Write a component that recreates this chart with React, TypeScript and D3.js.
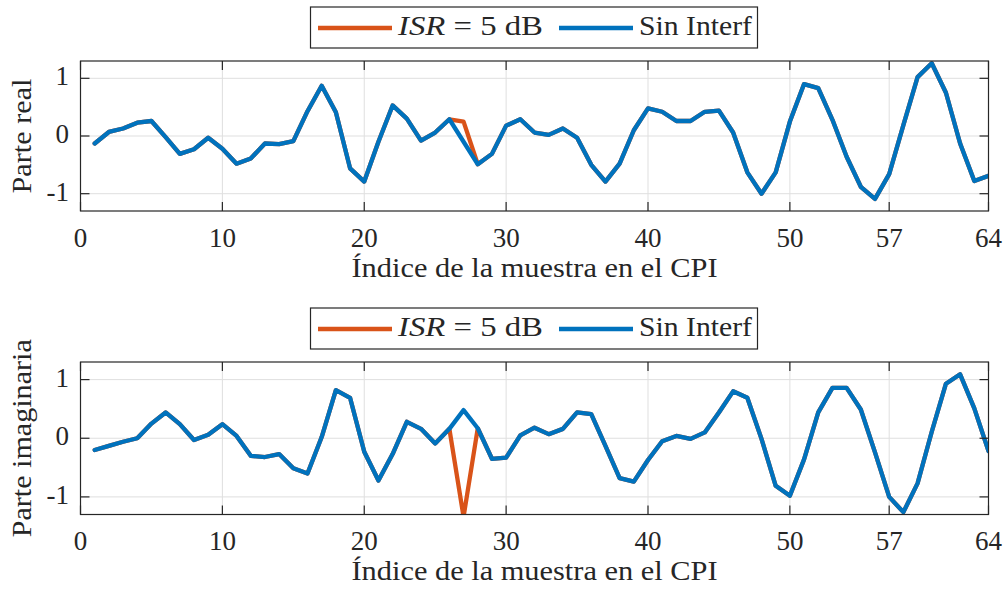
import React from 'react';
import * as d3 from 'd3';

const xTicks = [0, 10, 20, 30, 40, 50, 57, 64];
const yTicks = [-1, 0, 1];

const realSinInterf = [
  -0.13, 0.07, 0.13, 0.23, 0.26, -0.02, -0.31, -0.23, -0.03, -0.22,
  -0.48, -0.39, -0.13, -0.14, -0.09, 0.43, 0.87, 0.41, -0.56, -0.79,
  -0.1, 0.53, 0.3, -0.08, 0.06, 0.29, -0.1, -0.49, -0.31, 0.18,
  0.29, 0.06, 0.02, 0.13, -0.03, -0.5, -0.79, -0.48, 0.1, 0.48,
  0.42, 0.26, 0.26, 0.42, 0.44, 0.06, -0.63, -1.0, -0.63, 0.25,
  0.9, 0.83, 0.28, -0.36, -0.88, -1.09, -0.66, 0.19, 1.02, 1.26,
  0.75, -0.13, -0.78, -0.69,
];
const realISR5 = [
  -0.13, 0.07, 0.13, 0.23, 0.26, -0.02, -0.31, -0.23, -0.03, -0.22,
  -0.48, -0.39, -0.13, -0.14, -0.09, 0.43, 0.87, 0.41, -0.56, -0.79,
  -0.1, 0.53, 0.3, -0.08, 0.06, 0.29, 0.25, -0.49, -0.31, 0.18,
  0.29, 0.06, 0.02, 0.13, -0.03, -0.5, -0.79, -0.48, 0.1, 0.48,
  0.42, 0.26, 0.26, 0.42, 0.44, 0.06, -0.63, -1.0, -0.63, 0.25,
  0.9, 0.83, 0.28, -0.36, -0.88, -1.09, -0.66, 0.19, 1.02, 1.26,
  0.75, -0.13, -0.78, -0.69,
];
const imagSinInterf = [
  -0.2, -0.13, -0.06, 0.0, 0.25, 0.44, 0.24, -0.03, 0.06, 0.24,
  0.04, -0.3, -0.32, -0.27, -0.51, -0.6, 0.02, 0.82, 0.69, -0.23,
  -0.72, -0.27, 0.28, 0.16, -0.09, 0.16, 0.48, 0.17, -0.35, -0.33,
  0.05, 0.18, 0.07, 0.16, 0.44, 0.41, -0.13, -0.68, -0.74, -0.37,
  -0.05, 0.04, -0.01, 0.1, 0.44, 0.8, 0.69, -0.01, -0.81, -0.98,
  -0.36, 0.44, 0.86, 0.86, 0.49, -0.24, -1.0, -1.26, -0.77, 0.11,
  0.93, 1.09, 0.51, -0.22,
];
const imagISR5 = [
  -0.2, -0.13, -0.06, 0.0, 0.25, 0.44, 0.24, -0.03, 0.06, 0.24,
  0.04, -0.3, -0.32, -0.27, -0.51, -0.6, 0.02, 0.82, 0.69, -0.23,
  -0.72, -0.27, 0.28, 0.16, -0.09, 0.16, -1.34, 0.17, -0.35, -0.33,
  0.05, 0.18, 0.07, 0.16, 0.44, 0.41, -0.13, -0.68, -0.74, -0.37,
  -0.05, 0.04, -0.01, 0.1, 0.44, 0.8, 0.69, -0.01, -0.81, -0.98,
  -0.36, 0.44, 0.86, 0.86, 0.49, -0.24, -1.0, -1.26, -0.77, 0.11,
  0.93, 1.09, 0.51, -0.22,
];

const xLabel = 'Índice de la muestra en el CPI';
const legendSin = 'Sin Interf';

const FONT = 'Liberation Serif, DejaVu Serif, Times New Roman, serif';
const AX = '#262626';
const GRID = '#dfdfdf';
const BLUE = '#0072BD';
const ORANGE = '#D95319';
const FS = 27;
const LW = 4.3;

type PanelProps = {
  top: number;
  bottom: number;
  sin: number[];
  isr: number[];
  yLabel: string;
  yLabelLen: number;
  id: string;
};

function Panel({ top, bottom, sin, isr, yLabel, yLabelLen, id }: PanelProps) {
  const left = 80.5;
  const right = 988.5;
  const x = d3.scaleLinear().domain([0, 64]).range([left, right]);
  const y = d3.scaleLinear().domain([-1.3, 1.3]).range([bottom, top]);
  const line = d3
    .line<number>()
    .x((_, i) => x(i + 1))
    .y((d) => y(d));
  const tick = 9;
  const legTop = top - 54;
  const legH = 41;
  const lineY = legTop + 21;
  const textY = legTop + 28;
  const midY = (top + bottom) / 2;
  const textStyle = { fontFamily: FONT };
  return (
    <g>
      <defs>
        <clipPath id={id}>
          <rect x={left} y={top} width={right - left} height={bottom - top} />
        </clipPath>
      </defs>
      <rect x={left} y={top} width={right - left} height={bottom - top} fill="#fff" />
      {xTicks.map((t) => (
        <line key={'gx' + t} x1={x(t)} x2={x(t)} y1={top} y2={bottom} stroke={GRID} strokeWidth={1} />
      ))}
      {yTicks.map((t) => (
        <line key={'gy' + t} x1={left} x2={right} y1={y(t)} y2={y(t)} stroke={GRID} strokeWidth={1} />
      ))}
      <g clipPath={`url(#${id})`}>
        <path d={line(isr) || ''} fill="none" stroke={ORANGE} strokeWidth={LW} strokeLinejoin="round" strokeLinecap="round" />
        <path d={line(sin) || ''} fill="none" stroke={BLUE} strokeWidth={LW} strokeLinejoin="round" strokeLinecap="round" />
      </g>
      <rect x={left} y={top} width={right - left} height={bottom - top} fill="none" stroke={AX} strokeWidth={1.2} />
      {xTicks.map((t) => (
        <g key={'tx' + t}>
          <line x1={x(t)} x2={x(t)} y1={bottom} y2={bottom - tick} stroke={AX} strokeWidth={1.2} />
          <line x1={x(t)} x2={x(t)} y1={top} y2={top + tick} stroke={AX} strokeWidth={1.2} />
          <text x={x(t)} y={bottom + 35.5} textAnchor="middle" style={textStyle} fontSize={FS} fill={AX}>
            {t}
          </text>
        </g>
      ))}
      {yTicks.map((t) => (
        <g key={'ty' + t}>
          <line x1={left} x2={left + tick} y1={y(t)} y2={y(t)} stroke={AX} strokeWidth={1.2} />
          <line x1={right} x2={right - tick} y1={y(t)} y2={y(t)} stroke={AX} strokeWidth={1.2} />
          <text x={69} y={y(t) + 7} textAnchor="end" style={textStyle} fontSize={FS} fill={AX}>
            {t < 0 ? '-' + Math.abs(t) : String(t)}
          </text>
        </g>
      ))}
      <text
        x={(left + right) / 2}
        y={bottom + 65.5}
        textAnchor="middle"
        style={textStyle}
        fontSize={FS}
        fill={AX}
        textLength={366}
        lengthAdjust="spacingAndGlyphs"
      >
        {xLabel}
      </text>
      <text
        transform={`translate(31,${midY}) rotate(-90)`}
        textAnchor="middle"
        style={textStyle}
        fontSize={FS}
        fill={AX}
        textLength={yLabelLen}
        lengthAdjust="spacingAndGlyphs"
      >
        {yLabel}
      </text>
      <g>
        <rect x={310.5} y={legTop} width={447} height={legH} fill="#fff" stroke={AX} strokeWidth={1.2} />
        <line x1={318} x2={392} y1={lineY} y2={lineY} stroke={ORANGE} strokeWidth={LW} />
        <text x={398} y={textY} style={textStyle} fontSize={FS} fill={AX} textLength={145} lengthAdjust="spacingAndGlyphs">
          <tspan fontStyle="italic">ISR</tspan>
          <tspan> = 5 dB</tspan>
        </text>
        <line x1={559} x2={633} y1={lineY} y2={lineY} stroke={BLUE} strokeWidth={LW} />
        <text x={639} y={textY} style={textStyle} fontSize={FS} fill={AX} textLength={113} lengthAdjust="spacingAndGlyphs">
          {legendSin}
        </text>
      </g>
    </g>
  );
}

export default function App() {
  return (
    <svg
      width={1006}
      height={592}
      viewBox="0 0 1006 592"
      style={{ position: 'absolute', left: 0, top: 0, background: '#fff' }}
    >
      <rect x={0} y={0} width={1006} height={592} fill="#fff" />
      <Panel top={61} bottom={211} sin={realSinInterf} isr={realISR5} yLabel="Parte real" yLabelLen={115} id="clipTop" />
      <Panel
        top={362}
        bottom={514.5}
        sin={imagSinInterf}
        isr={imagISR5}
        yLabel="Parte imaginaria"
        yLabelLen={198}
        id="clipBottom"
      />
    </svg>
  );
}
